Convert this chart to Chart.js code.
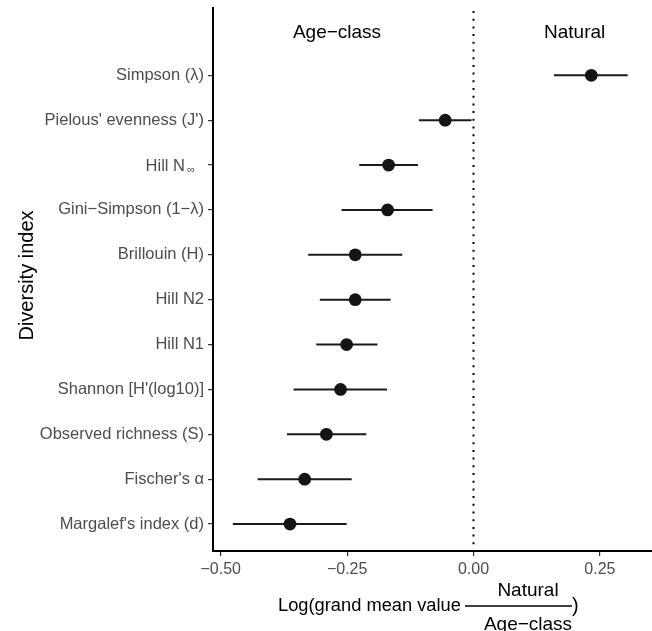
<!DOCTYPE html>
<html>
<head>
<meta charset="utf-8">
<script src="https://cdn.jsdelivr.net/npm/chart.js@4.4.0/dist/chart.umd.min.js"></script>
<style>
  html, body { margin: 0; padding: 0; background: #fff; }
  #wrap { width: 652px; height: 631px; }
</style>
</head>
<body>
<div id="wrap"><canvas id="forest" width="652" height="631"></canvas></div>
<script>
// Diversity indices, listed top to bottom
const indices = [
  'Simpson (λ)',
  "Pielous' evenness (J')",
  'Hill N∞',
  'Gini−Simpson (1−λ)',
  'Brillouin (H)',
  'Hill N2',
  'Hill N1',
  "Shannon [H'(log10)]",
  'Observed richness (S)',
  "Fischer's α",
  "Margalef's index (d)"
];
// log ratio of grand means and its interval
const estimate = [0.233, -0.056, -0.168, -0.170, -0.234, -0.234, -0.251, -0.263, -0.291, -0.334, -0.363];
const lower    = [0.159, -0.108, -0.226, -0.261, -0.327, -0.304, -0.311, -0.356, -0.369, -0.427, -0.476];
const upper    = [0.305, -0.004, -0.110, -0.081, -0.141, -0.164, -0.190, -0.171, -0.212, -0.241, -0.251];
const xTicks = [-0.5, -0.25, 0, 0.25];
const sideLabels = ['Age−class', 'Natural'];
const sideLabelX = [-0.27, 0.20];

const FONT = "'Liberation Sans', Arial, sans-serif";
const ROWS = indices.length;
const rowPos = i => ROWS - i;          // top row sits highest on the y scale

const points = estimate.map((v, i) => ({ x: v, y: rowPos(i), lo: lower[i], hi: upper[i] }));

const fmtTick = v => (v < 0 ? '−' : '') + Math.abs(v).toFixed(2);

// keep the panel edges where the layout puts them, no label overhang padding
const noPad = s => { s.paddingLeft = 0; s.paddingRight = 0; s.paddingTop = 0; s.paddingBottom = 0; };

// dotted reference line at zero plus the horizontal interval bars
const intervals = {
  id: 'intervals',
  beforeDatasetsDraw(chart) {
    const { ctx, chartArea, scales: { x, y } } = chart;
    ctx.save();
    ctx.strokeStyle = '#000';
    ctx.lineWidth = 2;
    ctx.setLineDash([2, 5.7]);
    const x0 = Math.round(x.getPixelForValue(0)) - 0.5;
    ctx.beginPath();
    ctx.moveTo(x0, chartArea.top + 3);
    ctx.lineTo(x0, chartArea.bottom);
    ctx.stroke();
    ctx.setLineDash([]);

    ctx.strokeStyle = '#1a1a1a';
    ctx.lineWidth = 2;
    points.forEach(p => {
      const py = y.getPixelForValue(p.y);
      ctx.beginPath();
      ctx.moveTo(x.getPixelForValue(p.lo), py);
      ctx.lineTo(x.getPixelForValue(p.hi), py);
      ctx.stroke();
    });
    ctx.restore();
  }
};

// group labels, the subscripted tick label and the axis titles
const annotations = {
  id: 'annotations',
  afterDraw(chart) {
    const { ctx, chartArea, scales: { x, y } } = chart;
    ctx.save();
    ctx.fillStyle = '#000';
    ctx.textAlign = 'center';
    ctx.textBaseline = 'alphabetic';
    ctx.font = `19px ${FONT}`;
    sideLabels.forEach((t, i) => {
      ctx.fillText(t, x.getPixelForValue(sideLabelX[i]), y.getPixelForValue(ROWS + 1) + 8);
    });

    // Hill N with a subscript infinity
    const hy = y.getPixelForValue(rowPos(indices.indexOf('Hill N∞')));
    ctx.fillStyle = '#4d4d4d';
    ctx.textAlign = 'right';
    ctx.font = `16.5px ${FONT}`;
    ctx.fillText('Hill N', 185, hy + 6);
    ctx.textAlign = 'left';
    ctx.font = `11px ${FONT}`;
    ctx.fillText('∞', 187, hy + 8);

    // y title
    ctx.fillStyle = '#000';
    ctx.save();
    ctx.translate(33, (chartArea.top + chartArea.bottom) / 2 - 4);
    ctx.rotate(-Math.PI / 2);
    ctx.textAlign = 'center';
    ctx.font = `20px ${FONT}`;
    ctx.fillText('Diversity index', 0, 0);
    ctx.restore();

    // x title with a stacked fraction
    ctx.font = `18.3px ${FONT}`;
    ctx.textAlign = 'left';
    ctx.fillText('Log(grand mean value', 278, 611);
    ctx.lineWidth = 1.3;
    ctx.strokeStyle = '#000';
    ctx.beginPath();
    ctx.moveTo(465, 606);
    ctx.lineTo(572, 606);
    ctx.stroke();
    ctx.font = `19px ${FONT}`;
    ctx.textAlign = 'center';
    ctx.fillText('Natural', 528, 596);
    ctx.fillText('Age−class', 528, 630);
    ctx.textAlign = 'left';
    ctx.font = `20px ${FONT}`;
    ctx.fillText(')', 572, 612);
    ctx.restore();
  }
};

new Chart(document.getElementById('forest'), {
  type: 'scatter',
  data: {
    datasets: [{
      data: points,
      backgroundColor: '#141414',
      borderColor: '#141414',
      pointRadius: 6.4,
      pointHoverRadius: 6.4,
      borderWidth: 0
    }]
  },
  options: {
    responsive: false,
    animation: false,
    layout: { autoPadding: false, padding: { top: 8, right: 0, bottom: 0, left: 0 } },
    plugins: { legend: { display: false }, tooltip: { enabled: false } },
    scales: {
      x: {
        type: 'linear',
        min: -0.5153,
        max: 0.353,
        afterBuildTicks: s => { s.ticks = xTicks.map(v => ({ value: v })); },
        afterFit: s => { s.height = 80; noPad(s); },
        ticks: {
          callback: v => fmtTick(v),
          color: '#4d4d4d',
          font: { family: FONT, size: 16 },
          padding: 4,
          maxRotation: 0
        },
        grid: { drawOnChartArea: false, drawTicks: true, tickLength: 5, color: '#333', lineWidth: 1.2 },
        border: { display: true, color: '#000', width: 2 }
      },
      y: {
        type: 'linear',
        min: 0.4,
        max: 12.5,
        afterBuildTicks: s => { s.ticks = indices.map((_, i) => ({ value: rowPos(i) })); },
        afterFit: s => { s.width = 213; noPad(s); },
        ticks: {
          callback: v => {
            const label = indices[ROWS - v];
            return label === 'Hill N∞' ? '' : label;
          },
          color: '#4d4d4d',
          font: { family: FONT, size: 16.5 },
          padding: 4
        },
        grid: { drawOnChartArea: false, drawTicks: true, tickLength: 5, color: '#333', lineWidth: 1.2 },
        border: { display: true, color: '#000', width: 2 }
      }
    }
  },
  plugins: [intervals, annotations]
});
</script>
</body>
</html>
